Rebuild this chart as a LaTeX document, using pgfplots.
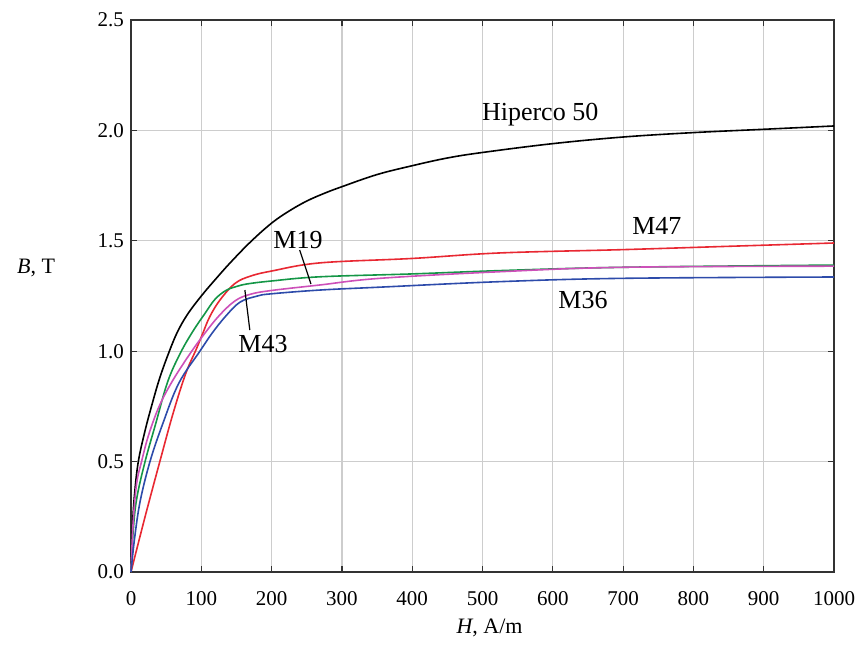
\documentclass[border=0pt]{standalone}
\usepackage{fontspec}
\setmainfont{Liberation Serif}
\usepackage{pgfplots}
\pgfplotsset{compat=1.18}
\definecolor{cred}{RGB}{232,40,50}
\definecolor{cgreen}{RGB}{20,150,70}
\definecolor{cpink}{RGB}{205,80,185}
\definecolor{cblue}{RGB}{45,75,170}
\definecolor{cgrid}{RGB}{205,205,205}
\begin{document}
\begin{tikzpicture}
\begin{axis}[
  scale only axis,
  width=351.5pt, height=276pt,
  at={(0,0)}, anchor=south west,
  xmin=0, xmax=1000, ymin=0, ymax=2.5,
  xtick={0,100,...,1000},
  ytick={0,0.5,...,2.5},
  grid=major,
  major grid style={cgrid, line width=0.6pt},
  axis line style={black!80, line width=0.9pt},
  tick align=inside,
  major tick length=3pt,
  tick style={black!80, line width=0.6pt},
  /pgf/number format/assume math mode=true,
  x tick label style={/pgf/number format/set thousands separator={}, font=\fontsize{10.5}{12}\selectfont, yshift=-6pt},
  y tick label style={/pgf/number format/.cd, fixed, fixed zerofill, precision=1, /tikz/font=\fontsize{10.5}{12}\selectfont},
  clip=false,
  every axis plot/.append style={line width=0.8pt, smooth, tension=0.6, no markers},
]
% Hiperco 50
\addplot[black] coordinates {(0,0) (2,0.2) (5,0.35) (10.4,0.5) (20,0.64) (30,0.76) (40,0.87) (51,0.97) (65,1.08) (80,1.165) (100,1.25) (120,1.325) (141,1.40) (170,1.495) (200,1.58) (225,1.635) (250,1.68) (275,1.715) (300,1.745) (350,1.80) (400,1.84) (450,1.875) (500,1.90) (600,1.94) (700,1.97) (800,1.99) (900,2.005) (1000,2.02)};
% M47
\addplot[cred] coordinates {(0,0) (20,0.25) (41,0.5) (60,0.72) (78,0.9) (93,1.01) (102,1.08) (112,1.156) (126.6,1.232) (148,1.307) (170,1.34) (200,1.363) (269,1.40) (400,1.42) (525,1.445) (700,1.46) (850,1.475) (1000,1.49)};
% M19
\addplot[cgreen] coordinates {(0,0) (3,0.18) (8,0.33) (20,0.5) (35,0.67) (52,0.86) (70,0.99) (88,1.09) (105,1.17) (119.5,1.235) (135,1.275) (150,1.293) (166,1.305) (200,1.318) (269,1.337) (400,1.35) (525,1.365) (700,1.38) (1000,1.39)};
% M43
\addplot[cpink] coordinates {(0,0) (3,0.22) (8,0.4) (15,0.5) (25,0.62) (40,0.75) (58,0.86) (80,0.97) (100,1.06) (124,1.156) (148,1.228) (170,1.258) (200,1.275) (269,1.30) (354,1.33) (525,1.36) (700,1.38) (1000,1.385)};
% M36
\addplot[cblue] coordinates {(0,0) (5,0.15) (13,0.32) (27,0.5) (45,0.67) (68,0.855) (98,1.0) (115,1.08) (134,1.156) (155,1.222) (180,1.25) (200,1.26) (269,1.277) (354,1.29) (525,1.315) (700,1.33) (1000,1.336)};
\node[font=\fontsize{13}{15}\selectfont] at (axis cs:582,2.07) {Hiperco 50};
\node[font=\fontsize{13}{15}\selectfont] at (axis cs:748,1.567) {M47};
\node[font=\fontsize{13}{15}\selectfont] at (axis cs:237.5,1.504) {M19};
\node[font=\fontsize{13}{15}\selectfont] at (axis cs:187.8,1.033) {M43};
\node[font=\fontsize{13}{15}\selectfont] at (axis cs:643,1.232) {M36};
\draw[black, line width=0.6pt] (axis cs:240,1.458) -- (axis cs:256,1.304);
\draw[black, line width=0.6pt] (axis cs:162,1.277) -- (axis cs:169,1.096);
\node[font=\fontsize{11}{13}\selectfont] at (rel axis cs:-0.135,0.551) {\textit{B}, T};
\node[font=\fontsize{11}{13}\selectfont] at (rel axis cs:0.51,-0.101) {\textit{H}, A/m};
\end{axis}
\pgfresetboundingbox
\path (-65.5pt,-39.5pt) rectangle (367.5pt,286pt);
\end{tikzpicture}
\end{document}
